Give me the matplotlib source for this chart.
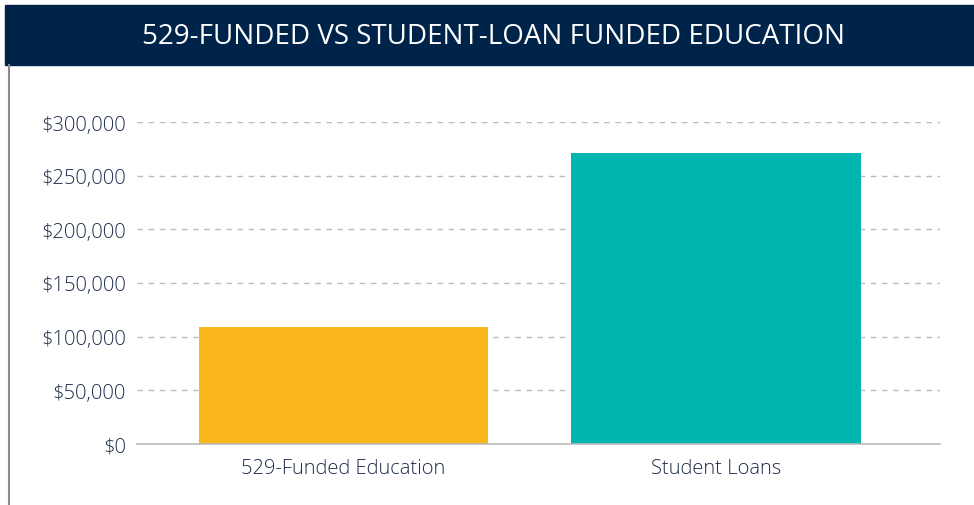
import matplotlib
matplotlib.use("Agg")
import matplotlib.pyplot as plt
import matplotlib.ticker as ticker
from matplotlib.patches import Rectangle
from matplotlib.lines import Line2D

# datos del grafico
categorias = ["529-Funded Education", "Student Loans"]
valores = [109000, 271000]
colores = ["#FBB61E", "#00B5AF"]
ticks_y = [0, 50000, 100000, 150000, 200000, 250000, 300000]
titulo = "529-FUNDED VS STUDENT-LOAN FUNDED EDUCATION"

texto = "#1E2D4C"
navy = "#00234A"

fig = plt.figure(figsize=(9.74, 5.06), dpi=100)
W, H = 974, 506

# banda del titulo
fig.patches.append(Rectangle((5 / W, 1 - 66 / H), 1 - 5 / W, 60 / H,
                             transform=fig.transFigure, color=navy, zorder=0))
fig.text((5 + 974) / 2 / W + 0.004, 1 - 37 / H, titulo, color="white", fontsize=20,
         family="Open Sans", ha="center", va="center")
# borde izquierdo
fig.lines.append(Line2D([8.5 / W, 8.5 / W], [0, 1 - 66 / H], transform=fig.transFigure,
                        color="#8C8C8C", lw=1.5))

ax = fig.add_axes([137 / W, 1 - 445 / H, (940 - 137) / W, (445 - 123) / H])
x = range(len(categorias))
ax.bar(x, valores, width=0.777, color=colores, zorder=2)

ax.set_ylim(0, 300000)
ax.set_xlim(-0.554, 1.6)
ax.set_yticks(ticks_y)
ax.yaxis.set_major_formatter(ticker.FuncFormatter(lambda v, p: f"${int(v):,}"))
ax.set_xticks(list(x))
ax.set_xticklabels(categorias)

for s in ["top", "right", "left"]:
    ax.spines[s].set_visible(False)
ax.spines["bottom"].set_color("#BBBBBB")
ax.spines["bottom"].set_linewidth(1.2)
ax.spines["bottom"].set_zorder(3)

ax.grid(axis="y", linestyle=(0, (4, 4)), color="#BBBBBB", linewidth=1, zorder=1)
ax.set_axisbelow(True)
ax.tick_params(axis="both", length=0, colors=texto)
ax.tick_params(axis="y", pad=8, labelsize=14.5)
ax.tick_params(axis="x", pad=10, labelsize=14.5)
for lbl in ax.get_xticklabels() + ax.get_yticklabels():
    lbl.set_family("Open Sans")
    lbl.set_fontweight("light")

fig.savefig("out.png", dpi=100)
